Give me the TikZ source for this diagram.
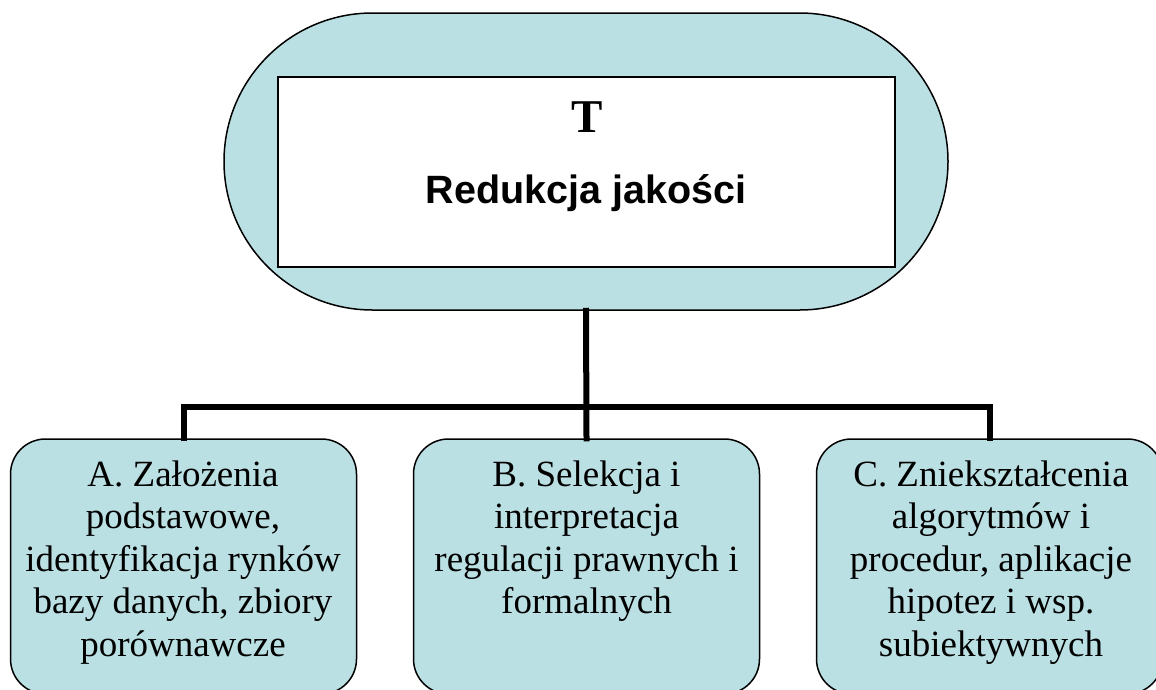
\documentclass[tikz,border=0pt]{standalone}
\usepackage{fontspec}
\setmainfont{Liberation Serif}
\newfontfamily\sansf{Liberation Sans}
\definecolor{boxblue}{RGB}{187,224,227}
\tikzset{
  stadium/.style={draw, line width=1.5pt, fill=boxblue, minimum width=724pt, minimum height=297pt, rounded corners=148.5pt, inner sep=0pt},
  innerbox/.style={draw, line width=1.5pt, fill=white, minimum width=617pt, minimum height=190pt, inner sep=0pt},
  subbox/.style={draw, line width=1.5pt, fill=boxblue, minimum width=346pt, minimum height=255pt, rounded corners=35pt, inner sep=0pt},
  boxtext/.style={anchor=base, inner sep=0pt, font=\fontsize{37}{42.5}\selectfont},
  conn/.style={line width=6pt, line cap=rect}
}
\begin{document}
\begin{tikzpicture}[x=1pt,y=-1pt]
\useasboundingbox (0,0) rectangle (1156,689);
\clip (0,0) rectangle (1156,689);
\node[stadium] (top) at (586,161.5) {};
\node[innerbox] (title) at (586.5,172) {};
\node[anchor=base, inner sep=0pt, font=\fontsize{47}{52}\selectfont\bfseries] (T) at (587,132) {T};
\node[anchor=base, inner sep=0pt, font=\sansf\bfseries\fontsize{39.5}{45}\selectfont] (R) at (586,203) {Redukcja jakości};

\node[subbox] (A) at (183.5,566.5) {};
\node[subbox] (B) at (586.5,566.5) {};
\node[subbox] (C) at (989.5,566.5) {};

\coordinate (bus) at (586.5,407);
\draw[conn] (top.south) -- (B.north);
\draw[conn] (A.north) |- (bus) -| (C.north);

\node[boxtext] (At) at (183,486) {\begin{tabular}[t]{@{}c@{}}A. Założenia\\ podstawowe,\\ identyfikacja rynków\\ bazy danych, zbiory\\ porównawcze\end{tabular}};
\node[boxtext] (Bt) at (586.5,486) {\begin{tabular}[t]{@{}c@{}}B. Selekcja i\\ interpretacja\\ regulacji prawnych i\\ formalnych\end{tabular}};
\node[boxtext] (Ct) at (991,486) {\begin{tabular}[t]{@{}c@{}}C. Zniekształcenia\\ algorytmów i\\ procedur, aplikacje\\ hipotez i wsp.\\ subiektywnych\end{tabular}};
\end{tikzpicture}
\end{document}
